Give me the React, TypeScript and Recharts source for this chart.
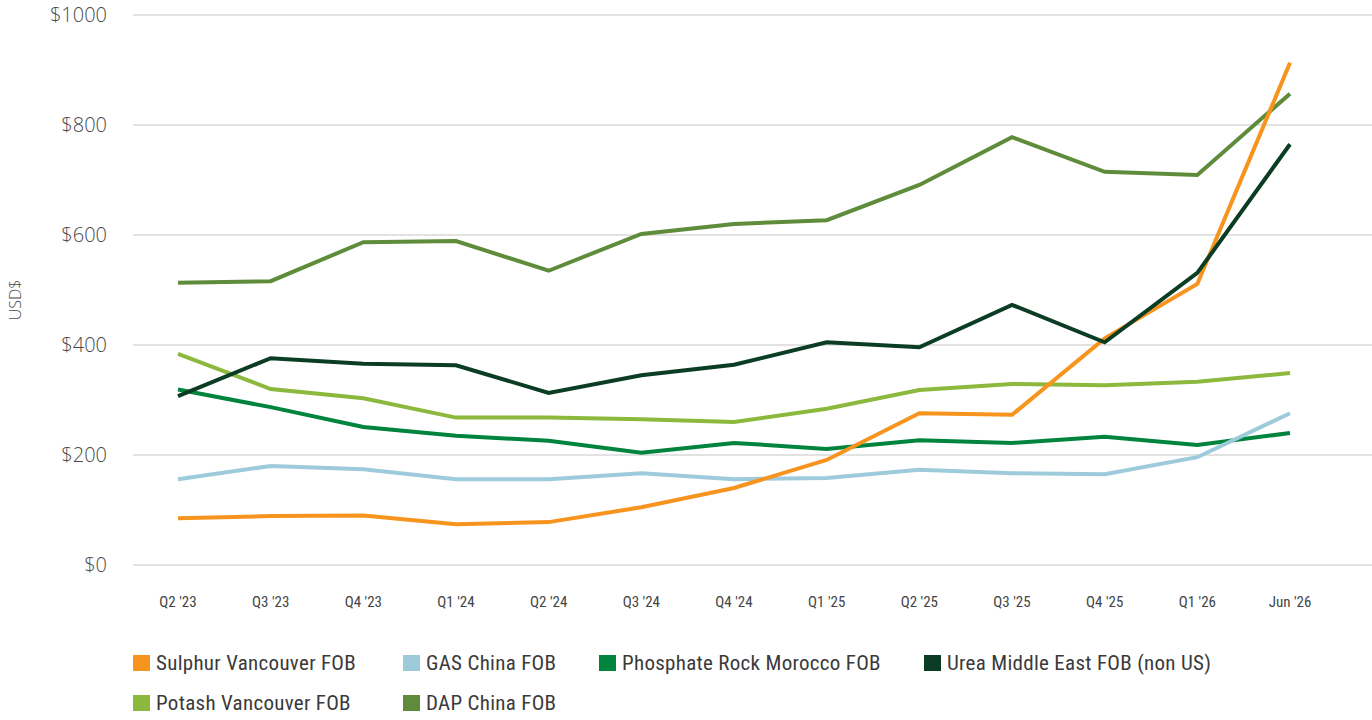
import { CartesianGrid, Line, LineChart, XAxis, YAxis } from "recharts";

const quarters = ["Q2 '23", "Q3 '23", "Q4 '23", "Q1 '24", "Q2 '24", "Q3 '24", "Q4 '24", "Q1 '25", "Q2 '25", "Q3 '25", "Q4 '25", "Q1 '26", "Jun '26"];

const sulphur = [85, 89, 90, 74, 78, 105, 140, 191, 276, 273, 412, 511, 913];
const gas = [156, 180, 174, 156, 156, 167, 156, 158, 173, 167, 165, 196, 276];
const phosphate = [319, 287, 251, 235, 226, 204, 222, 211, 227, 222, 233, 218, 240];
const urea = [307, 376, 366, 363, 313, 345, 364, 405, 396, 473, 405, 531, 765];
const potash = [384, 320, 303, 268, 268, 265, 260, 284, 318, 329, 327, 333, 349];
const dap = [513, 516, 587, 589, 535, 602, 620, 627, 691, 778, 715, 709, 857];

const yTicks = [0, 200, 400, 600, 800, 1000];

const data = quarters.map((q, i) => ({
  q, sulphur: sulphur[i], gas: gas[i], phosphate: phosphate[i],
  urea: urea[i], potash: potash[i], dap: dap[i],
}));

const series = [
  { key: "sulphur", name: "Sulphur Vancouver FOB", color: "#f7941d" },
  { key: "gas", name: "GAS China FOB", color: "#9ecbdb" },
  { key: "phosphate", name: "Phosphate Rock Morocco FOB", color: "#00843d" },
  { key: "urea", name: "Urea Middle East FOB (non US)", color: "#0b3d24" },
  { key: "potash", name: "Potash Vancouver FOB", color: "#8cb83e" },
  { key: "dap", name: "DAP China FOB", color: "#5e8c3a" },
];

// draw order (last on top)
const drawOrder = ["phosphate", "gas", "dap", "potash", "sulphur", "urea"];

const legendPos: Record<string, { left: number; top: number }> = {
  sulphur: { left: 133, top: 663 },
  gas: { left: 403, top: 663 },
  phosphate: { left: 599, top: 663 },
  urea: { left: 924, top: 663 },
  potash: { left: 133, top: 703 },
  dap: { left: 403, top: 703 },
};

const narrow = "'Liberation Sans Narrow', 'Arial Narrow', 'Roboto Condensed', Roboto, sans-serif";
const yFont = "'Open Sans', sans-serif";

function UnitLabel() {
  return (
    <text x={15} y={300} transform="rotate(-90 15 300)" textAnchor="middle" dominantBaseline="central"
      fill="#4a4a4a" fontSize={16} fontFamily={yFont} fontWeight={300}>
      USD$
    </text>
  );
}

export default function App() {
  return (
    <div style={{ position: "absolute", left: 0, top: 0, width: 1372, height: 720, background: "#fff" }}>
      <LineChart width={1372} height={620} data={data} margin={{ top: 15, right: 0, left: 0, bottom: 15 }}>
        <CartesianGrid horizontal vertical={false} stroke="#d9d9d9" strokeWidth={1.5} />
        <XAxis
          dataKey="q"
          axisLine={false}
          tickLine={false}
          height={40}
          padding={{ left: 45, right: 82 }}
          tickMargin={25}
          interval={0}
          tick={{ fill: "#444", fontSize: 15, fontFamily: narrow }}
        />
        <YAxis
          domain={[0, 1000]}
          ticks={yTicks}
          width={133}
          axisLine={false}
          tickLine={false}
          tickMargin={20}
          tickFormatter={(v: number) => `$${v}`}
          tick={{ fill: "#4a4a4a", fontSize: 20, fontWeight: 300, fontFamily: yFont }}
          label={<UnitLabel />}
        />
        {drawOrder.map((k) => {
          const s = series.find((x) => x.key === k)!;
          return (
            <Line key={k} type="linear" dataKey={k} name={s.name} stroke={s.color} strokeWidth={4}
              dot={false} activeDot={false} isAnimationActive={false} />
          );
        })}
      </LineChart>
      {series.map((s) => (
        <div key={s.key} style={{
          position: "absolute", left: legendPos[s.key].left, top: legendPos[s.key].top - 12,
          height: 24, display: "flex", alignItems: "center", gap: 6,
          fontFamily: narrow, fontSize: 21, letterSpacing: 0.3, color: "#3a3a3a", whiteSpace: "nowrap",
        }}>
          <span style={{ display: "inline-block", width: 17, height: 16, background: s.color }} />
          {s.name}
        </div>
      ))}
    </div>
  );
}
